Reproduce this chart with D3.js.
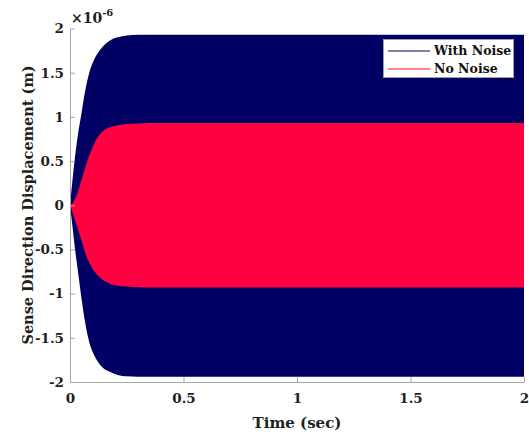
<!DOCTYPE html>
<html>
<head>
<meta charset="utf-8">
<script src="https://cdn.jsdelivr.net/npm/d3@7"></script>
<style>
  body { margin: 0; background: #fff; }
  svg { display: block; font-family: "DejaVu Serif", serif; font-weight: bold; }
</style>
</head>
<body>
<div id="chart"></div>
<script>
// envelope of the oscillating response (values in 1e-6 m)
const tEnv = [0, 0.01, 0.02, 0.035, 0.05, 0.065, 0.085, 0.105, 0.125, 0.15, 0.18, 0.21, 0.25, 0.3, 0.35, 0.4, 0.5, 1, 1.5, 2];
const noiseUpper = [0, 0.26, 0.5, 0.8, 1.03, 1.27, 1.5, 1.64, 1.73, 1.81, 1.87, 1.9, 1.92, 1.93, 1.93, 1.93, 1.93, 1.93, 1.93, 1.93];
const noiseLower = [0, -0.22, -0.45, -0.75, -1.04, -1.3, -1.55, -1.69, -1.78, -1.85, -1.89, -1.92, -1.935, -1.94, -1.94, -1.94, -1.94, -1.94, -1.94, -1.94];
const cleanUpper = [0, 0.02, 0.06, 0.15, 0.28, 0.41, 0.56, 0.69, 0.78, 0.85, 0.885, 0.905, 0.918, 0.925, 0.93, 0.93, 0.93, 0.93, 0.93, 0.93];
const cleanLower = [0, -0.07, -0.15, -0.27, -0.39, -0.52, -0.65, -0.74, -0.8, -0.855, -0.89, -0.91, -0.92, -0.928, -0.93, -0.93, -0.93, -0.93, -0.93, -0.93];

const xTicks = [0, 0.5, 1, 1.5, 2];
const yTicks = [-2, -1.5, -1, -0.5, 0, 0.5, 1, 1.5, 2];
const seriesNames = ['With Noise', 'No Noise'];
const seriesColors = ['#000064', '#ff0040'];

const width = 529, height = 436;
const plot = { left: 70, right: 524, top: 28.5, bottom: 382 };

const svg = d3.select('#chart').append('svg')
    .attr('width', width)
    .attr('height', height);

const x = d3.scaleLinear().domain([0, 2]).range([plot.left, plot.right]);
const y = d3.scaleLinear().domain([-2, 2]).range([plot.bottom, plot.top]);

// filled envelopes (the signal oscillates too fast to show as a line)
const area = (up, low) => d3.area()
    .x((d, i) => x(tEnv[i]))
    .y0((d, i) => y(low[i]))
    .y1((d, i) => y(up[i]))
    .curve(d3.curveMonotoneX)(tEnv);

svg.append('path').attr('d', area(noiseUpper, noiseLower)).attr('fill', seriesColors[0]);
svg.append('path').attr('d', area(cleanUpper, cleanLower)).attr('fill', seriesColors[1]);

// axes
const xAxis = svg.append('g')
    .attr('transform', `translate(0,${plot.bottom})`)
    .call(d3.axisBottom(x).tickValues(xTicks).tickFormat(d => String(d))
        .tickSizeInner(-5).tickSizeOuter(0).tickPadding(9));
const yAxis = svg.append('g')
    .attr('transform', `translate(${plot.left},0)`)
    .call(d3.axisLeft(y).tickValues(yTicks).tickFormat(d => String(d))
        .tickSizeInner(-5).tickSizeOuter(0).tickPadding(6));

[xAxis, yAxis].forEach(a => {
    a.select('.domain').attr('stroke', '#a6a6a6');
    a.selectAll('.tick line').attr('stroke', '#a6a6a6');
    a.selectAll('.tick text')
        .attr('fill', '#1f1f1f')
        .style('font-family', '"DejaVu Serif", serif')
        .style('font-weight', 'bold')
        .style('font-size', '13.5px');
});
xAxis.selectAll('.tick text').attr('dy', '0.9em');

// exponent label
const expo = svg.append('text')
    .attr('x', 71).attr('y', 23)
    .attr('fill', '#1f1f1f')
    .style('font-size', '14px');
expo.append('tspan').text('×10');
expo.append('tspan').attr('dy', -7).style('font-size', '10px').text('-6');

// axis titles
svg.append('text')
    .attr('x', (plot.left + plot.right) / 2).attr('y', 428)
    .attr('text-anchor', 'middle')
    .attr('fill', '#1f1f1f')
    .style('font-size', '15px')
    .text('Time (sec)');

svg.append('text')
    .attr('transform', `translate(33,205) rotate(-90)`)
    .attr('text-anchor', 'middle')
    .attr('fill', '#1f1f1f')
    .style('font-size', '14.5px')
    .text('Sense Direction Displacement (m)');

// legend
const lg = svg.append('g').attr('transform', 'translate(383,39)');
lg.append('rect')
    .attr('x', 0.5).attr('y', 0.5)
    .attr('width', 130).attr('height', 38)
    .attr('fill', '#fff')
    .attr('stroke', '#a0a0a0');
seriesNames.forEach((name, i) => {
    const yy = 12 + i * 18;
    lg.append('line')
        .attr('x1', 5).attr('x2', 47)
        .attr('y1', yy).attr('y2', yy)
        .attr('stroke', seriesColors[i])
        .attr('stroke-width', 1);
    lg.append('text')
        .attr('x', 51).attr('y', yy)
        .attr('dy', '0.35em')
        .attr('fill', '#111')
        .style('font-size', '12.5px')
        .text(name);
});
</script>
</body>
</html>
